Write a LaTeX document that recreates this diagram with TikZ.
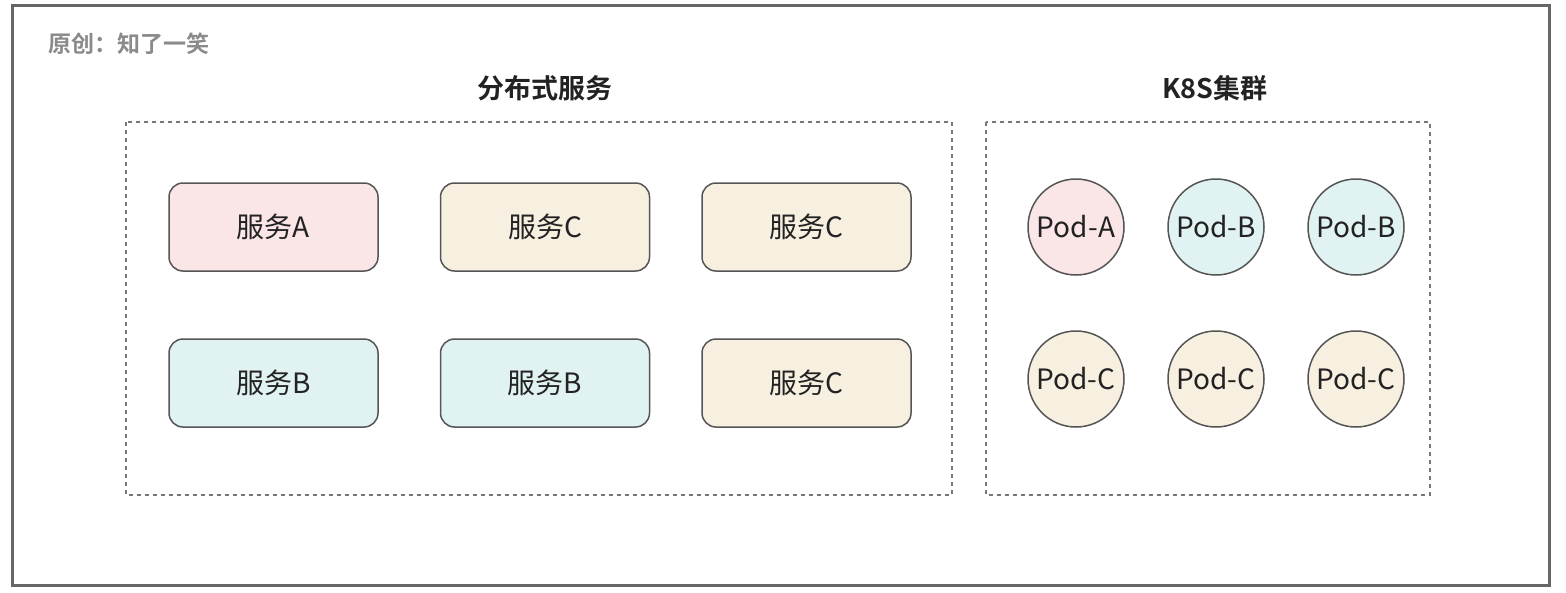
\documentclass[tikz,border=0pt]{standalone}
\usepackage{fontspec}
\newfontfamily\cjk{Noto Sans CJK SC}[BoldFont={Noto Sans CJK SC Bold}]
\definecolor{pinkf}{HTML}{FAE5E7}
\definecolor{cyanf}{HTML}{E0F2F1}
\definecolor{beigef}{HTML}{F7F0E0}
\definecolor{edgec}{HTML}{555555}
\definecolor{framec}{HTML}{666666}
\definecolor{dashc}{HTML}{777777}
\definecolor{titlec}{HTML}{8A8A8A}
\definecolor{textc}{HTML}{222222}
\tikzset{
  svc/.style={draw=edgec, line width=1.5pt, rounded corners=14pt, minimum width=209pt, minimum height=88pt, inner sep=0pt, font=\cjk\fontsize{28}{32}\selectfont, text=textc},
  pod/.style={draw=edgec, line width=1.5pt, circle, minimum size=96pt, inner sep=0pt, font=\cjk\fontsize{28}{32}\selectfont, text=textc},
  grp/.style={draw=dashc, line width=1.6pt, dash pattern=on 4pt off 4pt},
  hdr/.style={font=\cjk\bfseries\fontsize{27}{30}\selectfont, text=textc}
}
\begin{document}
\begin{tikzpicture}[x=1pt,y=-1pt]
\useasboundingbox (0,0) rectangle (1566,592);
\draw[framec, line width=3pt] (12.5,5.5) rectangle (1549.5,585);
\node[anchor=west, font=\cjk\bfseries\fontsize{23}{26}\selectfont, text=titlec] (cap) at (45,44) {原创：知了一笑};
\node[hdr] (t1) at (545,88) {分布式服务};
\node[hdr] (t2) at (1215,88) {K8S集群};
\draw[grp] (126,122) rectangle (952,495);
\draw[grp] (986,122) rectangle (1430,495);
\node[svc, fill=pinkf] (sa) at (273.5,227) {服务A};
\node[svc, fill=beigef] (sc1) at (545,227) {服务C};
\node[svc, fill=beigef] (sc2) at (806.5,227) {服务C};
\node[svc, fill=cyanf] (sb1) at (273.5,383) {服务B};
\node[svc, fill=cyanf] (sb2) at (545,383) {服务B};
\node[svc, fill=beigef] (sc3) at (806.5,383) {服务C};
\node[pod, fill=pinkf] (pa) at (1076,227) {Pod-A};
\node[pod, fill=cyanf] (pb1) at (1216,227) {Pod-B};
\node[pod, fill=cyanf] (pb2) at (1356,227) {Pod-B};
\node[pod, fill=beigef] (pc1) at (1076,379) {Pod-C};
\node[pod, fill=beigef] (pc2) at (1216,379) {Pod-C};
\node[pod, fill=beigef] (pc3) at (1356,379) {Pod-C};
\end{tikzpicture}
\end{document}
